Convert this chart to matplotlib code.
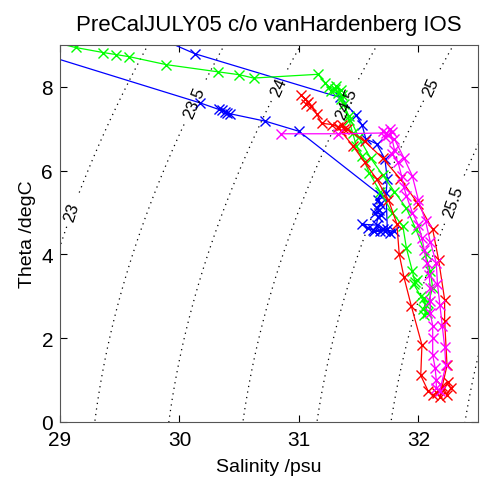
#T-S diagram with sigma-theta contours

import numpy as np
from matplotlib import pyplot as plt

plt.rcParams['font.family'] = ['Liberation Sans', 'DejaVu Sans']

# profiles (salinity psu, theta degC)
blue_s = [28.90, 30.17, 30.33, 30.36, 30.38, 30.40, 30.42, 30.72, 31.00, 31.68,
          31.66, 31.68, 31.65, 31.67, 31.64, 31.69, 31.66,
          31.65, 31.53, 31.58, 31.62, 31.68, 31.72, 31.76, 31.80, 31.70, 31.63, 31.74,
          31.73, 31.74, 31.72, 31.65, 31.56, 31.53, 31.48, 31.34, 30.13, 29.80]
blue_t = [8.74, 7.62, 7.46, 7.44, 7.40, 7.38, 7.36, 7.18, 6.94, 5.42,
          5.30, 5.20, 5.12, 5.05, 5.00, 4.95, 4.90,
          4.70, 4.72, 4.62, 4.58, 4.55, 4.56, 4.52, 4.55, 4.60, 4.55, 4.60,
          5.46, 5.80, 6.28, 6.64, 6.76, 7.08, 7.32, 7.75, 8.79, 9.20]

green_s = [28.90, 29.13, 29.36, 29.47, 29.58, 29.89, 30.32, 30.50, 30.62, 31.16,
           31.22, 31.25, 31.30, 31.27, 31.33, 31.35, 31.31, 31.36,
           31.38, 31.42, 31.45, 31.48, 31.53, 31.59, 31.68, 31.78, 31.87, 31.90, 31.95,
           31.97, 31.99, 31.96, 32.02, 32.06, 32.04, 32.08, 32.05, 32.07, 32.05,
           32.12, 32.10, 32.06, 31.98, 31.90, 31.80, 31.70, 31.60, 31.50, 31.42, 31.35]
green_t = [9.10, 8.94, 8.82, 8.77, 8.72, 8.53, 8.36, 8.29, 8.21, 8.30,
           8.10, 8.00, 7.95, 7.90, 7.85, 7.92, 8.02, 7.80,
           7.60, 7.20, 6.90, 6.60, 6.35, 5.94, 5.50, 5.00, 4.68, 4.15, 3.60,
           3.35, 3.40, 3.30, 3.00, 2.80, 2.70, 2.85, 2.95, 2.60, 2.55,
           3.20, 3.60, 4.00, 4.60, 5.10, 5.50, 5.90, 6.30, 6.80, 7.30, 7.70]

red_s = [31.02, 31.05, 31.08, 31.06, 31.10, 31.15, 31.19, 31.28, 31.33, 31.36, 31.38, 31.35,
         31.45, 31.55, 31.65, 31.75, 31.82, 31.84, 31.88, 31.94, 32.03, 32.02,
         32.08, 32.12, 32.16, 32.20, 32.24, 32.27, 32.25, 32.18,
         32.24, 32.22, 32.22, 32.17, 32.12, 32.00, 31.85, 31.70, 31.55, 31.40]
red_t = [7.80, 7.72, 7.65, 7.60, 7.55, 7.35, 7.13, 7.10, 7.05, 7.10, 7.00, 6.95,
         6.60, 6.20, 5.80, 5.30, 4.73, 4.00, 3.45, 2.78, 1.84, 1.11,
         0.75, 0.65, 0.70, 0.85, 0.65, 0.80, 0.95, 0.60,
         1.35, 2.42, 2.92, 3.86, 4.60, 5.20, 5.80, 6.30, 6.70, 7.00]

mag_s = [30.85, 31.33, 31.73, 31.70, 31.75, 31.78, 31.72, 31.76,
         31.80, 31.78, 31.83, 31.86, 31.88, 31.90, 31.95, 32.00, 32.03, 32.05, 32.07,
         32.09, 32.10, 32.10, 32.10, 32.12, 32.12, 32.12, 32.14, 32.15, 32.15, 32.18,
         32.23, 32.22, 32.20, 32.18, 32.16, 32.15, 32.10, 32.06, 32.00, 31.95, 31.88, 31.80]
mag_t = [6.88, 6.88, 6.90, 6.95, 6.85, 6.92, 6.80, 7.00,
         6.50, 6.40, 6.20, 5.87, 5.60, 5.40, 5.00, 4.70, 4.40, 4.10, 3.80,
         3.50, 3.20, 2.90, 2.60, 2.30, 2.00, 1.60, 1.30, 1.00, 0.80, 0.75,
         1.35, 1.80, 2.30, 2.80, 3.30, 3.80, 4.30, 4.80, 5.30, 5.87, 6.30, 6.75]

sigma_levels = [23, 23.5, 24, 24.5, 25, 25.5, 26]
label_pos = [(29.08, 5.04), (30.05, 7.7), (30.84, 8.0), (31.4, 7.6), (32.12, 8.0), (32.32, 5.24)]


def sigma_theta(s, t):
    # UNESCO EOS80 density at p=0, minus 1000
    rw = (999.842594 + 6.793952e-2*t - 9.095290e-3*t**2 + 1.001685e-4*t**3
          - 1.120083e-6*t**4 + 6.536332e-9*t**5)
    a = 0.824493 - 4.0899e-3*t + 7.6438e-5*t**2 - 8.2467e-7*t**3 + 5.3875e-9*t**4
    b = -5.72466e-3 + 1.0227e-4*t - 1.6546e-6*t**2
    return rw + a*s + b*s**1.5 + 4.8314e-4*s**2 - 1000


fig = plt.figure(figsize=(4.8, 4.89), dpi=100)
ax = fig.add_axes([0.125, 0.135, 0.871, 0.771])

sg, tg = np.meshgrid(np.linspace(28.5, 33, 300), np.linspace(-0.5, 9.5, 300))
cs = ax.contour(sg, tg, sigma_theta(sg, tg), levels=sigma_levels,
                colors='k', linestyles=[(0, (1, 3.5))], linewidths=0.9)
ax.clabel(cs, levels=sigma_levels[:-1], manual=label_pos, inline=True,
          fmt='%g', fontsize=12, colors='k')

ax.plot(blue_s, blue_t, '-x', color='#0000ff', lw=0.9, ms=7)
ax.plot(green_s, green_t, '-x', color='#00ff00', lw=0.9, ms=7)
ax.plot(red_s, red_t, '-x', color='#ff0000', lw=0.9, ms=7)
ax.plot(mag_s, mag_t, '-x', color='#ff00ff', lw=0.9, ms=7)

ax.set_xlim(29, 32.5)
ax.set_ylim(0, 9)
ax.set_xticks([29, 30, 31, 32])
ax.set_yticks([0, 2, 4, 6, 8])
ax.tick_params(direction='in', top=True, right=True, labelsize=15, length=5)
ax.tick_params(axis='x', pad=6)
ax.tick_params(axis='y', pad=5)
for sp in ax.spines.values():
    sp.set_color('#555555')
ax.set_xlabel('Salinity /psu', fontsize=14, labelpad=6)
ax.set_ylabel('Theta /degC', fontsize=14, labelpad=4)
ax.set_title('PreCalJULY05 c/o vanHardenberg IOS', fontsize=16, pad=11)

plt.savefig('out.png', dpi=100)
